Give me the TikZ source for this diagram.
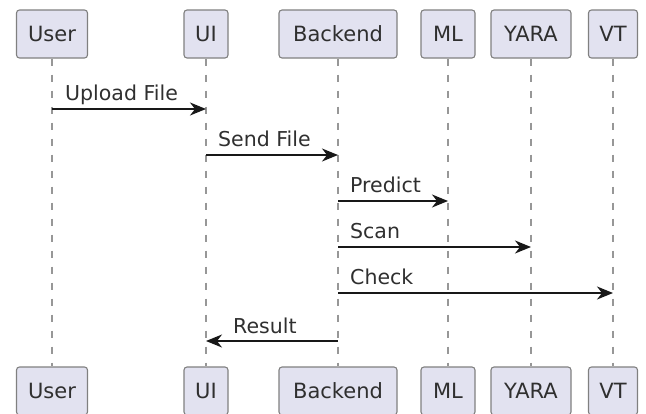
\documentclass[tikz,border=0pt]{standalone}
\usepackage{fontspec}
\setmainfont{DejaVu Sans}
\usetikzlibrary{arrows.meta}
\definecolor{boxfill}{HTML}{E2E2F0}
\definecolor{ink}{HTML}{181818}
\begin{document}
\begin{tikzpicture}[x=1pt,y=-1pt,
  actor/.style={draw=ink!55, fill=boxfill, rounded corners=3pt, line width=1.1pt, minimum height=48pt, inner sep=0pt, text=ink!90, font=\fontsize{21}{25}\selectfont},
  lifeline/.style={draw=ink!45, line width=1.1pt, dash pattern=on 7pt off 9pt},
  msg/.style={draw=ink, line width=1.6pt, -{Stealth[length=16pt,width=13pt,inset=5pt]}},
  lbl/.style={anchor=base west, inner sep=0pt, text=ink!90, font=\fontsize{20.5}{24}\selectfont}]
  \useasboundingbox (0,0) rectangle (646,413);

  \node[actor, minimum width=71pt] (userT) at (52,34) {User};
  \node[actor, minimum width=44pt] (uiT) at (206,34) {UI};
  \node[actor, minimum width=118pt] (backT) at (338,34) {Backend};
  \node[actor, minimum width=54pt] (mlT) at (448,34) {ML};
  \node[actor, minimum width=80pt] (yaraT) at (531,34) {YARA};
  \node[actor, minimum width=49pt] (vtT) at (613,34) {VT};

  \node[actor, minimum width=71pt] (userB) at (52,391) {User};
  \node[actor, minimum width=44pt] (uiB) at (206,391) {UI};
  \node[actor, minimum width=118pt] (backB) at (338,391) {Backend};
  \node[actor, minimum width=54pt] (mlB) at (448,391) {ML};
  \node[actor, minimum width=80pt] (yaraB) at (531,391) {YARA};
  \node[actor, minimum width=49pt] (vtB) at (613,391) {VT};

  \draw[lifeline] (userT) -- (userB);
  \draw[lifeline] (uiT) -- (uiB);
  \draw[lifeline] (backT) -- (backB);
  \draw[lifeline] (mlT) -- (mlB);
  \draw[lifeline] (yaraT) -- (yaraB);
  \draw[lifeline] (vtT) -- (vtB);

  % message points on the lifelines
  \coordinate (u1) at (52,109);
  \coordinate (i1) at (206,109);
  \coordinate (i2) at (206,155);
  \coordinate (b2) at (338,155);
  \coordinate (b3) at (338,201);
  \coordinate (m3) at (448,201);
  \coordinate (b4) at (338,247);
  \coordinate (y4) at (531,247);
  \coordinate (b5) at (338,293);
  \coordinate (v5) at (613,293);
  \coordinate (b6) at (338,341);
  \coordinate (i6) at (206,341);

  \draw[msg] (u1) -- (i1);
  \draw[msg] (i2) -- (b2);
  \draw[msg] (b3) -- (m3);
  \draw[msg] (b4) -- (y4);
  \draw[msg] (b5) -- (v5);
  \draw[msg] (b6) -- (i6);

  \node[lbl] (t1) at ([xshift=13pt,yshift=9pt]u1) {Upload File};
  \node[lbl] (t2) at ([xshift=12pt,yshift=9pt]i2) {Send File};
  \node[lbl] (t3) at ([xshift=12pt,yshift=9pt]b3) {Predict};
  \node[lbl] (t4) at ([xshift=12pt,yshift=9pt]b4) {Scan};
  \node[lbl] (t5) at ([xshift=12pt,yshift=9pt]b5) {Check};
  \node[lbl] (t6) at ([xshift=27pt,yshift=8pt]i6) {Result};
\end{tikzpicture}
\end{document}
